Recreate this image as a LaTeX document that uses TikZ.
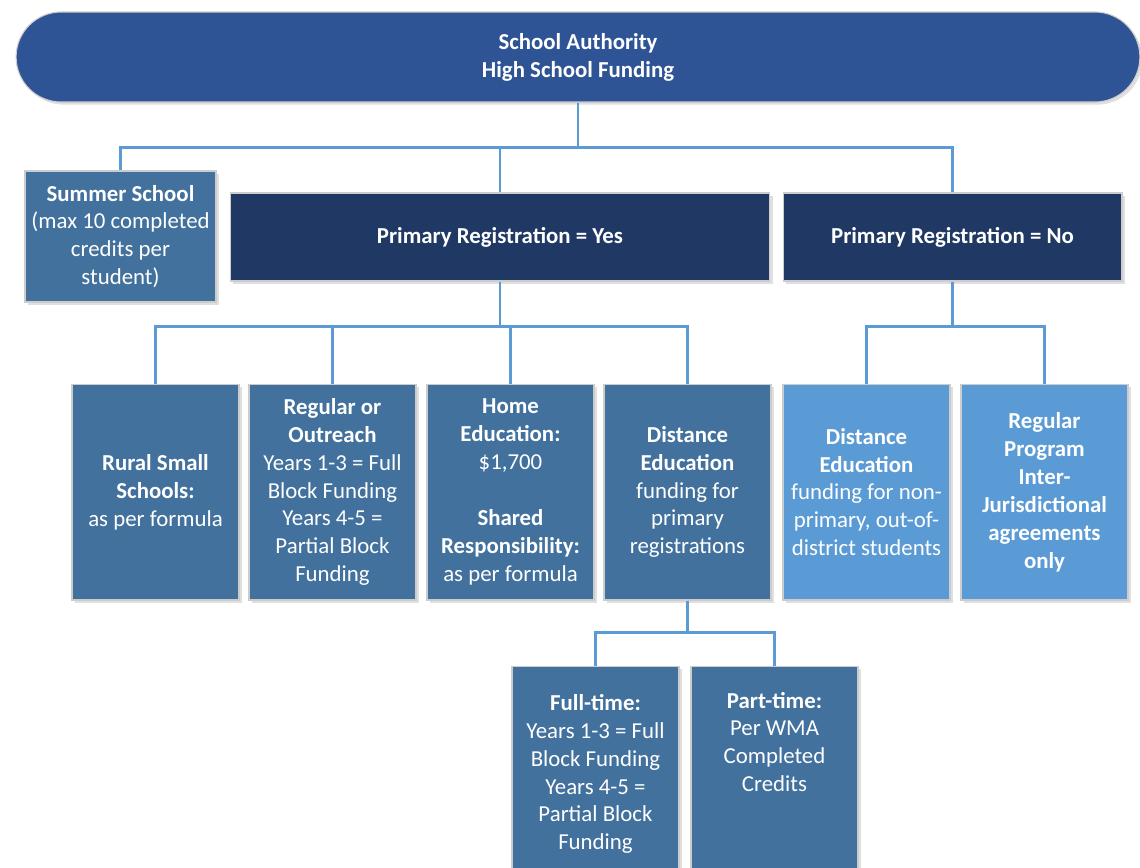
\documentclass[tikz,border=0pt]{standalone}
\usepackage{fontspec}
\setmainfont{Carlito}
\usetikzlibrary{calc}
\usetikzlibrary{shadows}

\definecolor{topblue}{RGB}{47,84,150}
\definecolor{navyblue}{RGB}{32,56,100}
\definecolor{midblue}{RGB}{65,113,156}
\definecolor{paleblue}{RGB}{91,155,213}

\begin{document}
\begin{tikzpicture}[x=0.02cm, y=-0.02cm,
  box/.style={rectangle, text=white, align=center, inner sep=0pt, draw=gray!40, line width=0.6pt,
    font=\fontsize{13}{15.9}\selectfont,
    drop shadow={shadow xshift=1.5pt, shadow yshift=-1.5pt, opacity=0.25}},
  cell/.style={box, fill=midblue, minimum width=3.34cm, minimum height=4.32cm},
  branch/.style={box, fill=navyblue, minimum height=1.76cm},
  link/.style={draw=paleblue, line width=1.2pt}]
\useasboundingbox (0,0) rectangle (1140,867);

% top of the tree
\node[box, fill=topblue, rounded corners=0.9cm, minimum width=22.48cm, minimum height=1.8cm] (auth) at (578,57)
  {\textbf{School Authority}\\\textbf{High School Funding}};

% second level
\node[box, fill=midblue, minimum width=3.82cm, minimum height=2.62cm] (summer) at (120.5,236.5)
  {\textbf{Summer School}\\(max 10 completed\\credits per\\student)};
\node[branch, minimum width=10.8cm] (yes) at (500,237) {\textbf{Primary Registration = Yes}};
\node[branch, minimum width=6.78cm] (no) at (952.5,237) {\textbf{Primary Registration = No}};

% third level
\node[cell] (rural) at (155.5,492) {\textbf{Rural Small}\\\textbf{Schools:}\\as per formula};
\node[cell] (regular) at (332.5,492)
  {\textbf{Regular or}\\\textbf{Outreach}\\Years 1-3 = Full\\Block Funding\\Years 4-5 =\\Partial Block\\Funding};
\node[cell] (home) at (510.5,492)
  {\textbf{Home}\\\textbf{Education:}\\\$1,700\\[15.9pt]\textbf{Shared}\\\textbf{Responsibility:}\\as per formula};
\node[cell] (distp) at (687.5,492)
  {\textbf{Distance}\\\textbf{Education}\\funding for\\primary\\registrations};
\node[cell, fill=paleblue] (distn) at (866.5,492)
  {\textbf{Distance}\\\textbf{Education}\\funding for non-\\primary, out-of-\\district students};
\node[cell, fill=paleblue] (interj) at (1044.5,492)
  {\textbf{Regular}\\\textbf{Program}\\\textbf{Inter-}\\\textbf{Jurisdictional}\\\textbf{agreements}\\\textbf{only}};

% fourth level
\node[cell] (full) at (595.5,774)
  {\textbf{Full-time:}\\Years 1-3 = Full\\Block Funding\\Years 4-5 =\\Partial Block\\Funding};
\node[cell] (part) at (774.5,774)
  {\textbf{Part-time:}\\Per WMA\\Completed\\Credits\\[15.9pt]\strut};

% connectors
\foreach \c in {summer,yes,no}
  \draw[link] (auth.south) -- ++(0,45) -| (\c.north);
\foreach \c in {rural,regular,home,distp}
  \draw[link] (yes.south) -- ++(0,45) -| (\c.north);
\foreach \c in {distn,interj}
  \draw[link] (no.south) -- ++(0,45) -| (\c.north);
\foreach \c in {full,part}
  \draw[link] (distp.south) -- ++(0,32) -| (\c.north);
\end{tikzpicture}
\end{document}
